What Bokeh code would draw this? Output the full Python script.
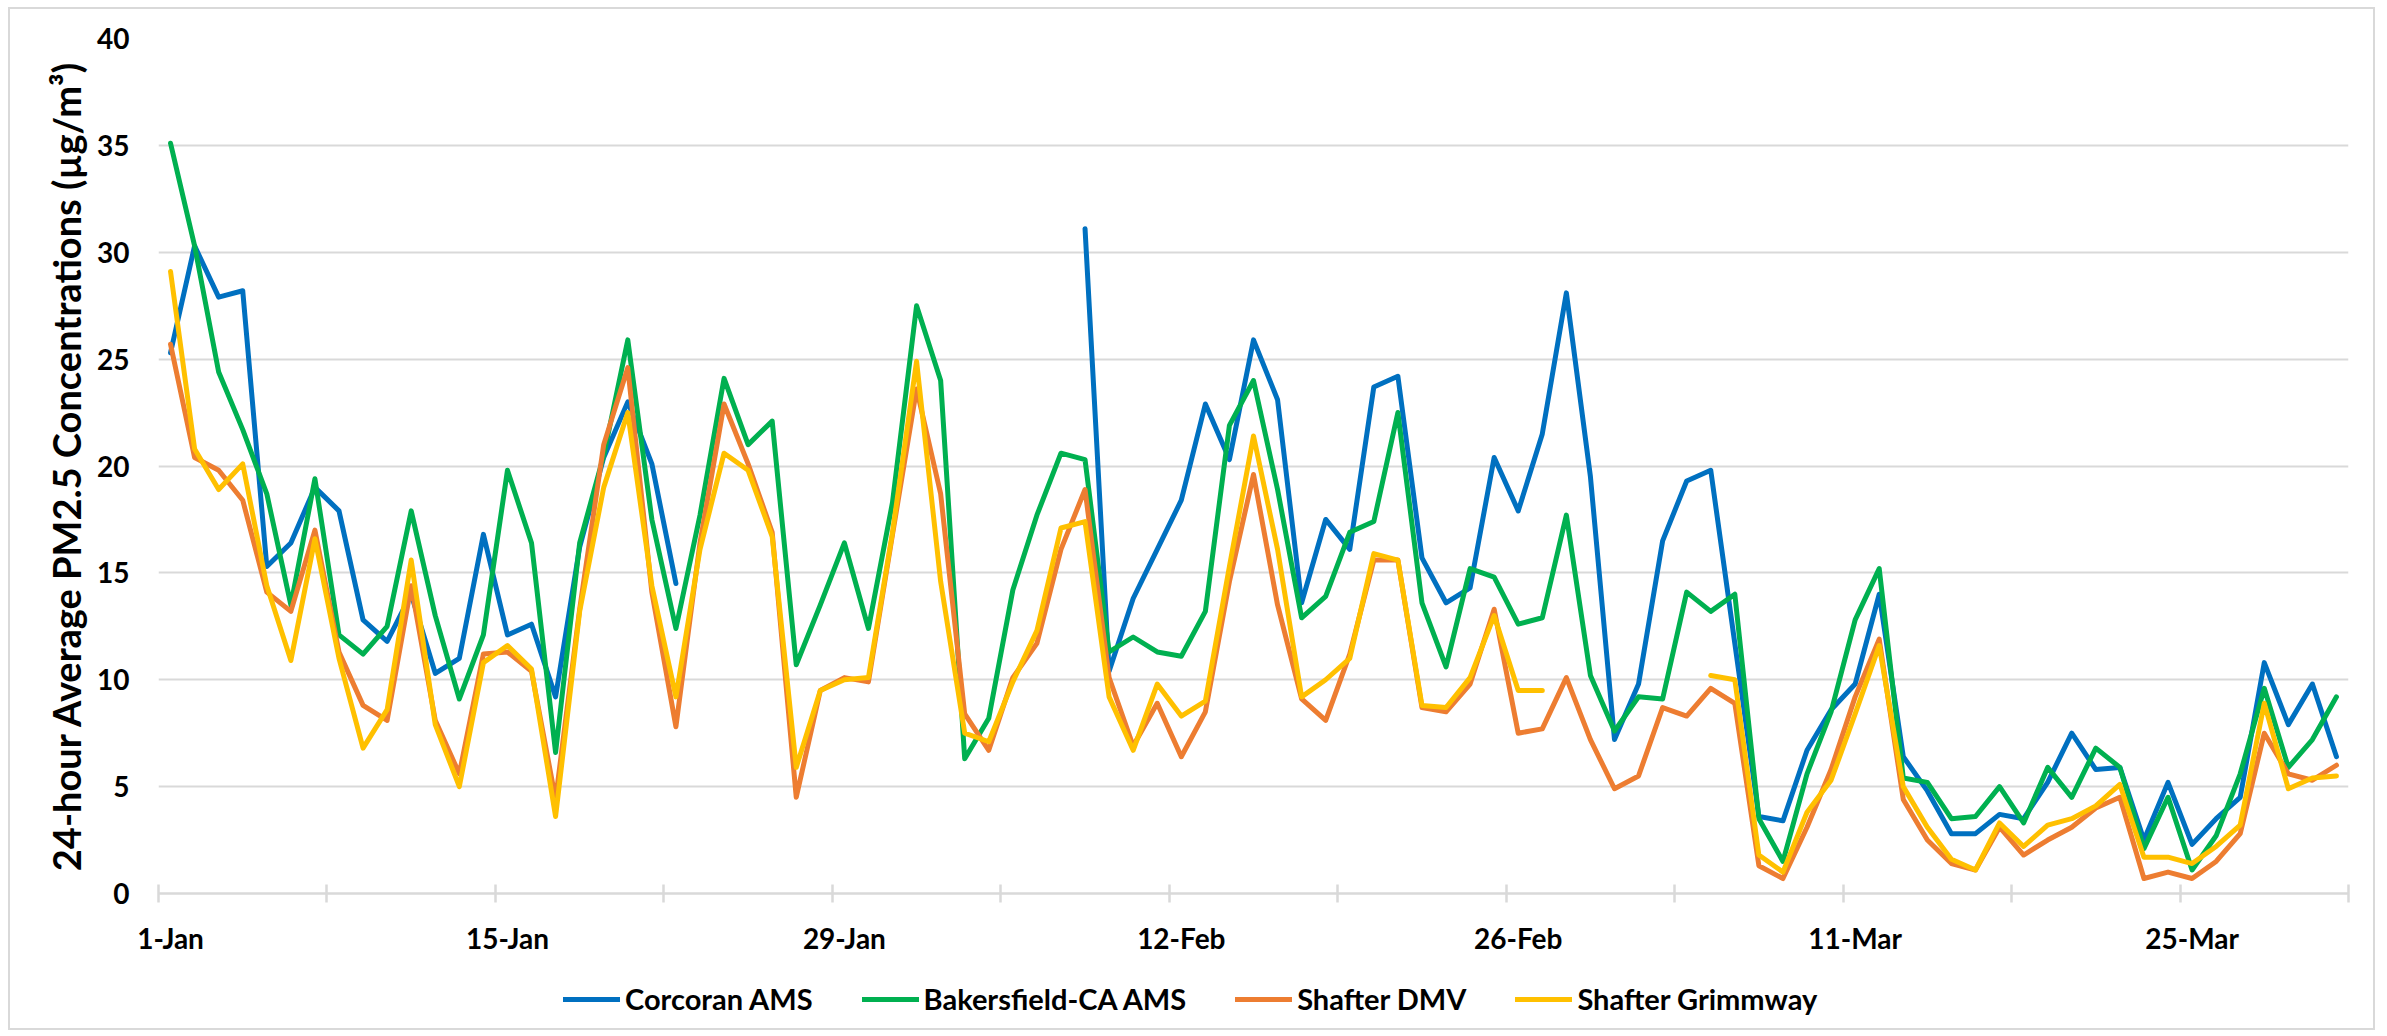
import math
from bokeh.plotting import figure
from bokeh.layouts import column
from bokeh.models import FixedTicker, Legend, LegendItem
from bokeh.embed import file_html
from bokeh.resources import INLINE

nan = float("nan")

days = list(range(91))

corcoran = [25.3, 30.3, 27.9, 28.2, 15.3, 16.4, 19.0, 17.9, 12.8, 11.8,
            14.0, 10.3, 11.0, 16.8, 12.1, 12.6, 9.2, 16.2, 20.4, 23.0,
            20.1, 14.5, nan, nan, nan, nan, nan, nan, nan, nan,
            nan, nan, nan, nan, nan, nan, nan, nan, 31.1, 10.4,
            13.8, 16.1, 18.4, 22.9, 20.3, 25.9, 23.1, 13.6, 17.5, 16.1,
            23.7, 24.2, 15.7, 13.6, 14.3, 20.4, 17.9, 21.5, 28.1, 19.5,
            7.2, 9.8, 16.5, 19.3, 19.8, 11.7, 3.6, 3.4, 6.7, 8.6,
            9.8, 14.0, 6.4, 4.8, 2.8, 2.8, 3.7, 3.5, 5.2, 7.5,
            5.8, 5.9, 2.5, 5.2, 2.3, 3.5, 4.5, 10.8, 7.9, 9.8,
            6.4]

bakersfield = [35.1, 30.3, 24.4, 21.7, 18.7, 13.5, 19.4, 12.1, 11.2, 12.5,
               17.9, 13.0, 9.1, 12.1, 19.8, 16.4, 6.6, 16.4, 20.5, 25.9,
               17.5, 12.4, 17.7, 24.1, 21.0, 22.1, 10.7, 13.5, 16.4, 12.4,
               18.3, 27.5, 24.0, 6.3, 8.2, 14.2, 17.7, 20.6, 20.3, 11.3,
               12.0, 11.3, 11.1, 13.2, 21.9, 24.0, 18.9, 12.9, 13.9, 16.9,
               17.4, 22.5, 13.6, 10.6, 15.2, 14.8, 12.6, 12.9, 17.7, 10.2,
               7.6, 9.2, 9.1, 14.1, 13.2, 14.0, 3.5, 1.5, 5.6, 8.5,
               12.8, 15.2, 5.4, 5.2, 3.5, 3.6, 5.0, 3.3, 5.9, 4.5,
               6.8, 5.9, 2.1, 4.5, 1.1, 2.7, 5.6, 9.6, 5.9, 7.2,
               9.2]

shafter_dmv = [25.7, 20.4, 19.8, 18.4, 14.1, 13.2, 17.0, 11.3, 8.8, 8.1,
               14.4, 8.1, 5.6, 11.2, 11.3, 10.4, 4.4, 13.3, 21.0, 24.6,
               14.1, 7.8, 16.4, 22.9, 20.1, 16.9, 4.5, 9.5, 10.1, 9.9,
               16.8, 23.6, 18.7, 8.4, 6.7, 10.1, 11.7, 16.1, 18.9, 10.1,
               6.9, 8.9, 6.4, 8.5, 14.6, 19.6, 13.5, 9.1, 8.1, 11.2,
               15.6, 15.6, 8.7, 8.5, 9.8, 13.3, 7.5, 7.7, 10.1, 7.2,
               4.9, 5.5, 8.7, 8.3, 9.6, 8.9, 1.3, 0.7, 3.1, 5.8,
               9.2, 11.9, 4.4, 2.5, 1.4, 1.1, 3.1, 1.8, 2.5, 3.1,
               4.0, 4.5, 0.7, 1.0, 0.7, 1.5, 2.8, 7.5, 5.6, 5.3,
               6.0]

shafter_grimmway = [29.1, 20.8, 18.9, 20.1, 14.4, 10.9, 16.6, 11.0, 6.8, 8.6,
                    15.6, 7.9, 5.0, 10.8, 11.6, 10.5, 3.6, 13.2, 19.0, 22.5,
                    14.4, 9.2, 16.1, 20.6, 19.8, 16.7, 5.9, 9.5, 10.0, 10.1,
                    16.9, 24.9, 14.6, 7.5, 7.1, 9.9, 12.3, 17.1, 17.4, 9.2,
                    6.7, 9.8, 8.3, 9.0, 15.3, 21.4, 16.1, 9.2, 10.0, 11.0,
                    15.9, 15.6, 8.8, 8.7, 10.1, 13.0, 9.5, 9.5, nan, nan,
                    nan, nan, nan, nan, 10.2, 10.0, 1.8, 1.0, 3.8, 5.3,
                    8.4, 11.6, 5.0, 3.1, 1.6, 1.1, 3.3, 2.2, 3.2, 3.5,
                    4.1, 5.1, 1.7, 1.7, 1.4, 2.2, 3.2, 8.9, 4.9, 5.4,
                    5.5]

series_names = ["Corcoran AMS", "Bakersfield-CA AMS", "Shafter DMV", "Shafter Grimmway"]
series_values = [corcoran, bakersfield, shafter_dmv, shafter_grimmway]
series_colors = ["#0070C0", "#00B050", "#ED7D31", "#FFC000"]

tick_days = [0, 14, 28, 42, 56, 70, 84]
tick_labels = ["1-Jan", "15-Jan", "29-Jan", "12-Feb", "26-Feb", "11-Mar", "25-Mar"]
y_ticks = [0, 5, 10, 15, 20, 25, 30, 35, 40]

GRID = "#D9D9D9"
FONT = "Lato"

p = figure(width=2363, height=959, x_range=(-0.5, 90.5), y_range=(0, 40),
           output_backend="svg", toolbar_location=None,
           min_border_left=148, min_border_right=25,
           min_border_top=29, min_border_bottom=75)
p.outline_line_color = None
p.background_fill_color = "white"
p.border_fill_color = "white"

# x axis
p.xaxis.ticker = FixedTicker(ticks=tick_days,
                             minor_ticks=[d - 0.5 for d in range(0, 92, 7)])
p.xaxis.major_label_overrides = {d: lab for d, lab in zip(tick_days, tick_labels)}
p.xaxis.major_tick_line_color = None
p.xaxis.major_tick_in = 0
p.xaxis.major_tick_out = 0
p.xaxis.minor_tick_line_color = GRID
p.xaxis.minor_tick_line_width = 2.5
p.xaxis.minor_tick_in = 9
p.xaxis.minor_tick_out = 9
p.xaxis.axis_line_color = GRID
p.xaxis.axis_line_width = 2.5
p.xaxis.major_label_standoff = 18
p.xgrid.grid_line_color = None

# y axis
p.yaxis.ticker = FixedTicker(ticks=y_ticks)
p.yaxis.axis_line_color = None
p.yaxis.major_tick_line_color = None
p.yaxis.minor_tick_line_color = None
p.yaxis.major_tick_in = 0
p.yaxis.major_tick_out = 0
p.yaxis.major_label_standoff = 29
p.ygrid.grid_line_color = GRID
p.ygrid.grid_line_width = 2

for ax in (p.xaxis, p.yaxis):
    ax.major_label_text_font = FONT
    ax.major_label_text_font_style = "bold"
    ax.major_label_text_font_size = "28px"
    ax.major_label_text_color = "#000000"

p.yaxis.axis_label = "24-hour Average PM2.5 Concentrations (µg/m³)"
p.yaxis.axis_label_text_font = FONT
p.yaxis.axis_label_text_font_style = "bold"
p.yaxis.axis_label_text_font_size = "38px"
p.yaxis.axis_label_text_color = "#000000"
p.yaxis.axis_label_standoff = 5

for name, vals, col in zip(series_names, series_values, series_colors):
    p.line(days, vals, line_color=col, line_width=5,
           line_join="round", line_cap="round")

# legend strip below the chart (its frame is aligned with the chart's frame)
lg = figure(width=2363, height=60, x_range=(0, 1), y_range=(0, 1),
            output_backend="svg", toolbar_location=None,
            x_axis_type=None, y_axis_type=None,
            min_border_left=0, min_border_right=0,
            min_border_top=0, min_border_bottom=0)
lg.outline_line_color = None
lg.grid.visible = False
items = []
for name, col in zip(series_names, series_colors):
    r = lg.line([nan], [nan], line_color=col, line_width=5, line_cap="round")
    items.append(LegendItem(label=name, renderers=[r]))

legend = Legend(items=items, location=(405, 12), orientation="horizontal",
                glyph_width=57, glyph_height=30, label_height=30,
                label_standoff=5, spacing=49, padding=0, margin=0,
                border_line_color=None, background_fill_alpha=0,
                label_text_font=FONT, label_text_font_style="bold",
                label_text_font_size="29px", label_text_color="#000000")
lg.add_layout(legend)

layout = column(p, lg, spacing=0)
layout.styles = {"border": "2px solid #D9D9D9", "background-color": "white",
                 "margin-left": "8px", "margin-top": "7px"}

open("out.html", "w").write(file_html(layout, INLINE))
